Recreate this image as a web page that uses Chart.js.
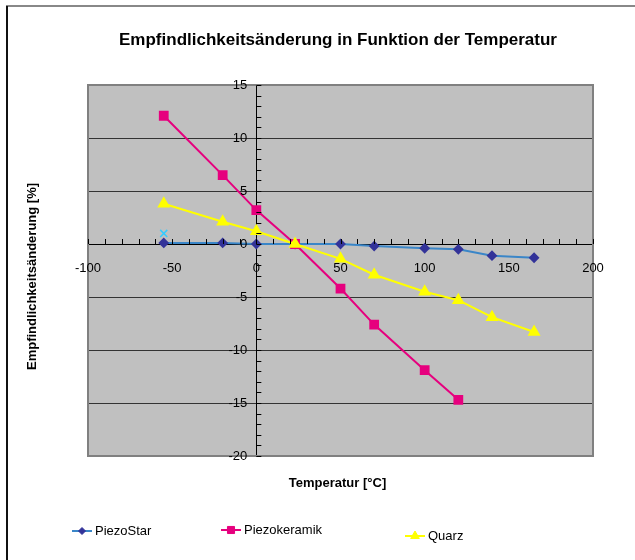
<!DOCTYPE html>
<html>
<head>
<meta charset="utf-8">
<script src="https://cdn.jsdelivr.net/npm/chart.js@4/dist/chart.umd.min.js"></script>
<style>
  body { margin: 0; background: #fff; }
  #wrap { width: 635px; height: 560px; position: relative; }
</style>
</head>
<body>
<div id="wrap"><canvas id="chart"></canvas></div>
<script>
// Werte
const tempPiezoStar = [-55, -20, 0, 23, 50, 70, 100, 120, 140, 165];
const valPiezoStar  = [0.1, 0.1, 0, 0, 0, -0.2, -0.4, -0.5, -1.1, -1.3];
const tempKeramik   = [-55, -20, 0, 23, 50, 70, 100, 120];
const valKeramik    = [12.1, 6.5, 3.2, 0, -4.2, -7.6, -11.9, -14.7];
const tempQuarz     = [-55, -20, 0, 23, 50, 70, 100, 120, 140, 165];
const valQuarz      = [3.8, 2.1, 1.2, 0, -1.4, -2.9, -4.5, -5.3, -6.9, -8.3];
const tempExtra     = [-55];
const valExtra      = [1.0];

const xTicks = [-100, -50, 0, 50, 100, 150, 200];
const yTicks = [-20, -15, -10, -5, 0, 5, 10, 15];

const titleText = 'Empfindlichkeitsänderung in Funktion der Temperatur';
const xTitle = 'Temperatur [°C]';
const yTitle = 'Empfindlichkeitsänderung [%]';

const font = "'Liberation Sans', Arial, sans-serif";

function pts(xs, ys) {
    return xs.map((x, i) => ({ x: x, y: ys[i] }));
}

// Rahmen, Hintergrund, Beschriftungen und Legende
const decor = {
    id: 'decor',
    beforeDraw(chart) {
        const { ctx, chartArea: a } = chart;
        ctx.save();
        ctx.fillStyle = '#c0c0c0';
        ctx.fillRect(a.left, a.top, a.right - a.left, a.bottom - a.top);
        // äußerer Rahmen
        ctx.strokeStyle = '#888';
        ctx.lineWidth = 2;
        ctx.beginPath(); ctx.moveTo(6, 6); ctx.lineTo(635, 6); ctx.stroke();
        ctx.strokeStyle = '#111';
        ctx.beginPath(); ctx.moveTo(7, 6); ctx.lineTo(7, 560); ctx.stroke();
        ctx.restore();
    },
    afterDatasetsDraw(chart) {
        const { ctx, chartArea: a, scales } = chart;
        const xs = scales.x, ys = scales.y;
        const x0 = xs.getPixelForValue(0), y0 = ys.getPixelForValue(0);
        ctx.save();
        // Plotrahmen
        ctx.strokeStyle = '#808080';
        ctx.lineWidth = 2;
        ctx.strokeRect(a.left, a.top, a.right - a.left, a.bottom - a.top);
        // Teilstriche
        ctx.strokeStyle = '#000';
        ctx.lineWidth = 1;
        ctx.beginPath();
        for (let v = -20; v <= 15; v++) {
            const p = Math.round(ys.getPixelForValue(v)) + 0.5;
            ctx.moveTo(x0, p); ctx.lineTo(x0 + 5, p);
        }
        for (let v = -100; v <= 200; v += 10) {
            const p = Math.round(xs.getPixelForValue(v)) + 0.5;
            ctx.moveTo(p, y0); ctx.lineTo(p, y0 - 5);
        }
        ctx.stroke();

        // Achsenbeschriftung
        ctx.fillStyle = '#000';
        ctx.font = '13px ' + font;
        ctx.textBaseline = 'middle';
        ctx.textAlign = 'right';
        yTicks.forEach(v => ctx.fillText(String(v), x0 - 9, ys.getPixelForValue(v)));
        ctx.textAlign = 'center';
        xTicks.forEach(v => ctx.fillText(String(v), xs.getPixelForValue(v), y0 + 24));

        // Titel
        ctx.font = 'bold 17px ' + font;
        ctx.fillText(titleText, 338, 40);
        ctx.font = 'bold 13px ' + font;
        ctx.fillText(xTitle, (a.left + a.right) / 2 - 3, 483);
        ctx.save();
        ctx.translate(32, (a.top + a.bottom) / 2 + 6);
        ctx.rotate(-Math.PI / 2);
        ctx.fillText(yTitle, 0, 0);
        ctx.restore();

        // Legende
        const items = [
            { ds: 0, x: 72, y: 531 },
            { ds: 1, x: 221, y: 530 },
            { ds: 2, x: 405, y: 536 }
        ];
        ctx.font = '13px ' + font;
        ctx.textAlign = 'left';
        items.forEach(it => {
            const d = chart.data.datasets[it.ds];
            ctx.strokeStyle = d.borderColor;
            ctx.lineWidth = 2;
            ctx.beginPath(); ctx.moveTo(it.x, it.y); ctx.lineTo(it.x + 20, it.y); ctx.stroke();
            ctx.fillStyle = d.pointBackgroundColor;
            ctx.strokeStyle = d.pointBorderColor;
            ctx.lineWidth = 1;
            Chart.helpers.drawPoint(ctx, {
                pointStyle: d.pointStyle, radius: d.pointRadius - 0.5, borderWidth: 1, rotation: 0
            }, it.x + 10, it.y);
            ctx.fillStyle = '#000';
            ctx.fillText(d.label, it.x + 23, it.y);
        });
        ctx.restore();
    }
};

new Chart(document.getElementById('chart'), {
    type: 'scatter',
    data: {
        datasets: [
            {
                label: 'PiezoStar',
                data: pts(tempPiezoStar, valPiezoStar),
                showLine: true,
                borderColor: '#3a86c8',
                borderWidth: 2,
                pointStyle: 'rectRot',
                pointRadius: 4,
                pointBackgroundColor: '#333399',
                pointBorderColor: '#333399',
                order: 3
            },
            {
                label: 'Piezokeramik',
                data: pts(tempKeramik, valKeramik),
                showLine: true,
                borderColor: '#e6007e',
                borderWidth: 2,
                pointStyle: 'rect',
                pointRadius: 5.5,
                pointBackgroundColor: '#e6007e',
                pointBorderColor: '#e6007e',
                order: 2
            },
            {
                label: 'Quarz',
                data: pts(tempQuarz, valQuarz),
                showLine: true,
                borderColor: '#ffff00',
                borderWidth: 2,
                pointStyle: 'triangle',
                pointRadius: 5.5,
                pointBackgroundColor: '#ffff00',
                pointBorderColor: '#ffff00',
                order: 1
            },
            {
                label: '',
                data: pts(tempExtra, valExtra),
                showLine: false,
                pointStyle: 'crossRot',
                pointRadius: 5,
                pointBorderColor: '#33ccff',
                pointBorderWidth: 1.5,
                order: 0
            }
        ]
    },
    options: {
        responsive: true,
        maintainAspectRatio: false,
        animation: false,
        layout: { padding: { left: 88, right: 42, top: 85, bottom: 104 } },
        plugins: {
            legend: { display: false },
            title: { display: false },
            tooltip: { enabled: false }
        },
        scales: {
            x: {
                type: 'linear',
                position: { y: 0 },
                min: -100, max: 200,
                afterBuildTicks: s => { s.ticks = xTicks.map(v => ({ value: v })); },
                grid: { display: false, drawTicks: false },
                border: { display: true, color: '#000', width: 1 },
                ticks: { display: false }
            },
            y: {
                type: 'linear',
                position: { x: 0 },
                min: -20, max: 15,
                afterBuildTicks: s => { s.ticks = yTicks.map(v => ({ value: v })); },
                grid: { color: '#333', lineWidth: 1, drawTicks: false },
                border: { display: true, color: '#000', width: 1 },
                ticks: { display: false }
            }
        }
    },
    plugins: [decor]
});
</script>
</body>
</html>
